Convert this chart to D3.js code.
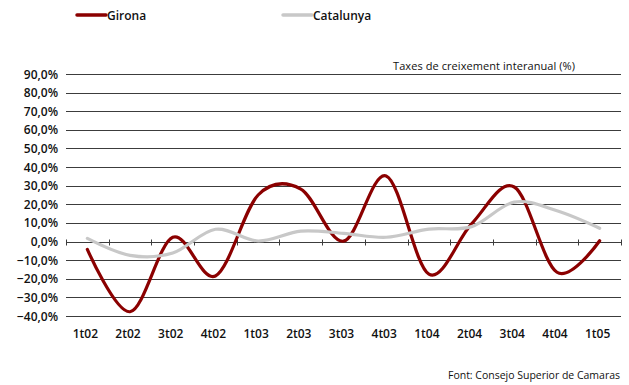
<!DOCTYPE html>
<html>
<head>
<meta charset="utf-8">
<script src="https://cdn.jsdelivr.net/npm/d3@7"></script>
<style>
  html, body { margin: 0; padding: 0; background: #fff; }
  svg { display: block; }
  text { font-family: "Open Sans", "Noto Sans", sans-serif; fill: #111; }
</style>
</head>
<body>
<svg id="chart" width="629" height="385"></svg>
<script>
// Quarterly periods shown on the x axis
const quarters = ["1t02","2t02","3t02","4t02","1t03","2t03","3t03","4t03","1t04","2t04","3t04","4t04","1t05"];

// Year-on-year growth rates (%)
const girona    = [-4.2, -37.7, 2.3, -18.5, 25.0, 28.2, 0.2, 35.2, -17.5, 9.5, 29.3, -16.5, 0.4];
const catalunya = [1.7, -7.4, -6.2, 6.6, 0.3, 5.6, 4.4, 2.3, 6.7, 8.0, 21.2, 16.5, 7.1];

// Y axis ticks
const yTicks = [90, 80, 70, 60, 50, 40, 30, 20, 10, 0, -10, -20, -30, -40];

const seriesNames = ["Girona", "Catalunya"];
const seriesColors = ["#8b0000", "#c8c8c8"];

const svg = d3.select("#chart");

const x = d3.scaleBand().domain(quarters).range([66, 621]).padding(0);
const y = d3.scaleLinear().domain([-40, 90]).range([316, 74]);
const cx = q => x(q) + x.bandwidth() / 2;
const fmt = v => d3.format(".1f")(v).replace(".", ",") + "%";

// Horizontal gridlines
svg.append("g")
  .selectAll("line")
  .data(yTicks.filter(v => v !== 0))
  .join("line")
  .attr("x1", 66).attr("x2", 621)
  .attr("y1", d => Math.round(y(d)) + 0.5)
  .attr("y2", d => Math.round(y(d)) + 0.5)
  .attr("stroke", "#3c3c3c")
  .attr("stroke-width", 1);

// Y axis labels
svg.append("g")
  .selectAll("text")
  .data(yTicks)
  .join("text")
  .attr("x", 58)
  .attr("y", d => y(d) + 4.5)
  .attr("text-anchor", "end")
  .attr("font-size", 12)
  .attr("font-weight", 600)
  .text(fmt);

// Zero line with category tick marks
const zeroY = Math.round(y(0)) + 0.5;
svg.append("line")
  .attr("x1", 66).attr("x2", 621)
  .attr("y1", zeroY).attr("y2", zeroY)
  .attr("stroke", "#3c3c3c");
const edges = quarters.map(q => x(q)).concat([x(quarters[quarters.length - 1]) + x.bandwidth()]);
svg.append("g")
  .selectAll("line")
  .data(edges)
  .join("line")
  .attr("x1", d => Math.round(d) + 0.5).attr("x2", d => Math.round(d) + 0.5)
  .attr("y1", zeroY - 3).attr("y2", zeroY + 3)
  .attr("stroke", "#3c3c3c");

// X axis category labels
svg.append("g")
  .selectAll("text")
  .data(quarters)
  .join("text")
  .attr("x", d => cx(d) - 2)
  .attr("y", 338)
  .attr("text-anchor", "middle")
  .attr("font-size", 12)
  .attr("font-weight", 600)
  .text(d => d);

// Series lines
const line = d3.line()
  .x((d, i) => cx(quarters[i]))
  .y(d => y(d))
  .curve(d3.curveCatmullRom.alpha(0));

[girona, catalunya].forEach((vals, k) => {
  svg.append("path")
    .datum(vals)
    .attr("d", line)
    .attr("fill", "none")
    .attr("stroke", seriesColors[k])
    .attr("stroke-width", 3.2)
    .attr("stroke-linejoin", "round")
    .attr("stroke-linecap", "round");
});

// Legend
const legendX = [77, 283];
seriesNames.forEach((name, k) => {
  svg.append("line")
    .attr("x1", legendX[k]).attr("x2", legendX[k] + 29)
    .attr("y1", 15).attr("y2", 15)
    .attr("stroke", seriesColors[k])
    .attr("stroke-width", 3.5)
    .attr("stroke-linecap", "round");
  svg.append("text")
    .attr("x", legendX[k] + 30)
    .attr("y", 20)
    .attr("font-size", 12)
    .attr("font-weight", 600)
    .text(name);
});

// Chart subtitle
svg.append("text")
  .attr("x", 575)
  .attr("y", 70)
  .attr("text-anchor", "end")
  .attr("font-family", "'DejaVu Sans Condensed', 'Liberation Sans Narrow', sans-serif")
  .attr("font-size", 11)
  .attr("textLength", 182)
  .text("Taxes de creixement interanual (%)");

// Source note
svg.append("text")
  .attr("x", 620)
  .attr("y", 379)
  .attr("text-anchor", "end")
  .attr("font-family", "'DejaVu Sans Condensed', 'Noto Sans', sans-serif")
  .attr("font-size", 10.5)
  .attr("textLength", 172)
  .text("Font: Consejo Superior de Camaras");
</script>
</body>
</html>
